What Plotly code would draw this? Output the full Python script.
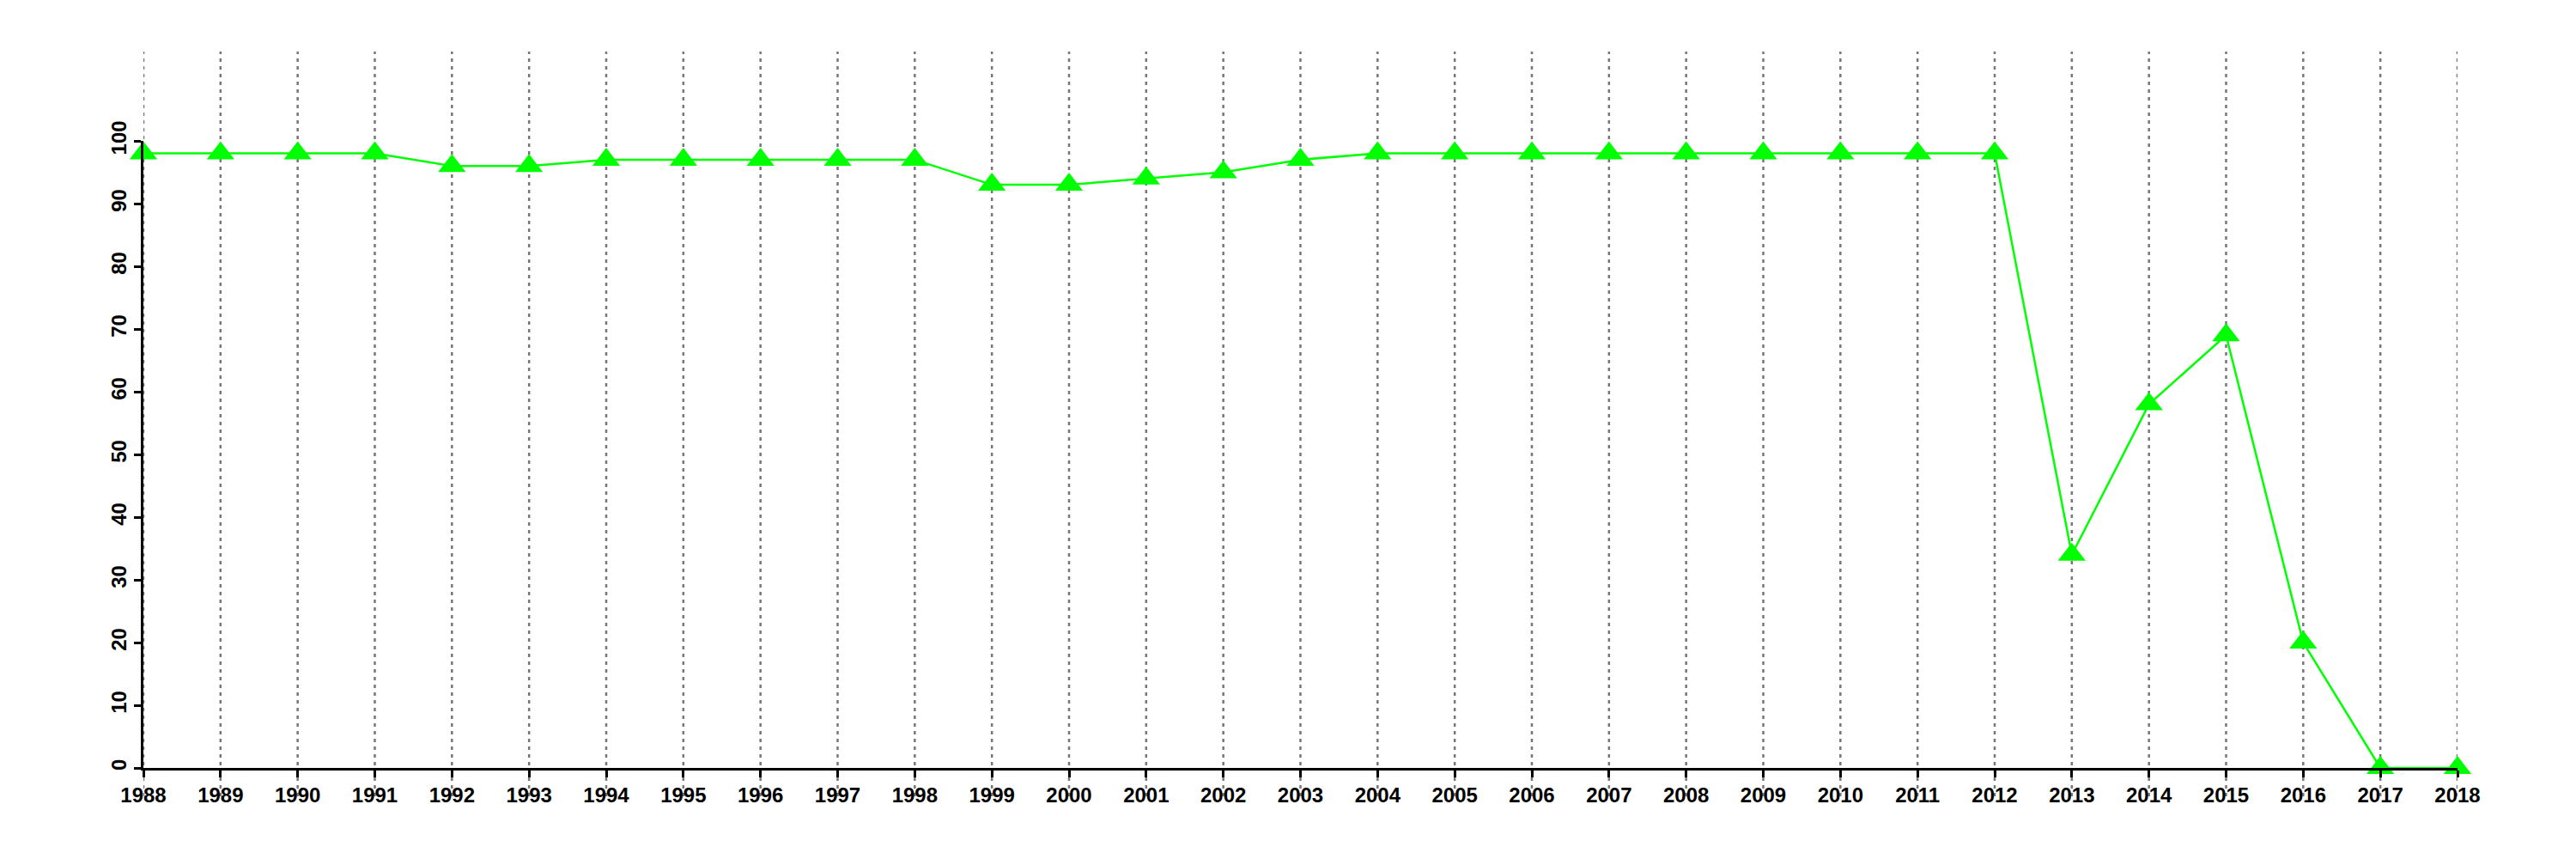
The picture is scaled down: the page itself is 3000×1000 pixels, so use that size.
import plotly.graph_objects as go

years = list(range(1988, 2019))
values = [98, 98, 98, 98, 96, 96, 97, 97, 97, 97, 97, 93, 93, 94, 95, 97,
          98, 98, 98, 98, 98, 98, 98, 98, 98, 34, 58, 69, 20, 0, 0]
y_ticks = [0, 10, 20, 30, 40, 50, 60, 70, 80, 90, 100]

fig = go.Figure()

# vertical dotted grid lines extending beyond the plot box
for yr in years:
    fig.add_shape(type="line", xref="x", yref="paper", x0=yr, x1=yr,
                  y0=-0.0452, y1=1.1425, layer="below",
                  line=dict(color="#777777", width=2.5, dash="4px,5px"))

fig.add_trace(go.Scatter(
    x=years, y=values, mode="lines+markers", cliponaxis=False,
    line=dict(color="#00FF00", width=2.5),
    marker=dict(symbol="triangle-up", size=28, color="#00FF00",
                line=dict(width=0)),
    showlegend=False,
))

font = dict(family="Liberation Sans, Arial, sans-serif", size=24,
            color="black", weight="bold")

fig.update_layout(
    width=2984, height=984, autosize=False,
    margin=dict(l=159, r=130, t=156, b=98),
    plot_bgcolor="white", paper_bgcolor="white",
    xaxis=dict(range=[1988, 2018], tickmode="array", tickvals=years,
               ticktext=[str(y) for y in years], showgrid=False,
               zeroline=False, showline=True, linecolor="black",
               linewidth=2.5, ticks="outside", ticklen=8, tickwidth=2.5,
               tickcolor="black", tickfont=font, ticklabelstandoff=0,
               automargin=False),
    yaxis=dict(range=[0, 100], tickmode="array", tickvals=y_ticks,
               ticktext=[str(v) for v in y_ticks], showgrid=False,
               zeroline=False, showline=True, linecolor="black",
               linewidth=2.5, ticks="outside", ticklen=8, tickwidth=2.5,
               tickcolor="black", tickfont=font, tickangle=-90,
               ticklabelstandoff=0, automargin=False),
)

fig.write_html("out.html")
